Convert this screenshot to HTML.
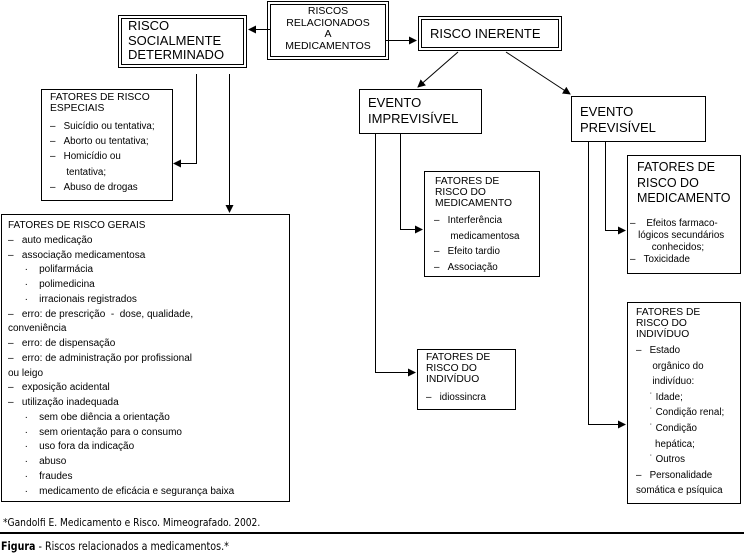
<!DOCTYPE html>
<html><head><meta charset="utf-8"><style>
body{margin:0;width:744px;height:554px;background:#fff;position:relative;font-family:"Liberation Sans",sans-serif;color:#000;overflow:hidden}
.b{position:absolute;border:1px solid #000;box-sizing:border-box;background:#fff}
.d{outline:1px solid #000;outline-offset:2px}
.t{position:absolute;white-space:nowrap;font-size:10.3px}
.h{position:absolute;white-space:nowrap;font-size:14px;line-height:16px}
.s{position:absolute;white-space:nowrap;font-size:11px;line-height:12.5px}
</style></head><body>
<svg width="744" height="554" style="position:absolute;left:0;top:0">
<defs><marker id="a" markerWidth="8" markerHeight="8" refX="7" refY="4" orient="auto" markerUnits="userSpaceOnUse"><path d="M0,0 L8,4 L0,8z" fill="#000"/></marker></defs>
<g stroke="#000" stroke-width="1" fill="none">
<line x1="278" y1="29.5" x2="249" y2="29.5" marker-end="url(#a)"/>
<line x1="382" y1="40.5" x2="416" y2="40.5" marker-end="url(#a)"/>
<polyline points="196.5,74 196.5,163.5 174,163.5" marker-end="url(#a)"/>
<line x1="229.5" y1="74" x2="229.5" y2="212" marker-end="url(#a)"/>
<line x1="458" y1="52" x2="418" y2="87" marker-end="url(#a)"/>
<line x1="506" y1="52" x2="570" y2="94" marker-end="url(#a)"/>
<polyline points="375.5,133 375.5,372.5 415,372.5" marker-end="url(#a)"/>
<polyline points="400.5,133 400.5,229.5 422,229.5" marker-end="url(#a)"/>
<polyline points="588.5,141 588.5,424.5 625,424.5" marker-end="url(#a)"/>
<polyline points="605.5,141 605.5,230.5 625,230.5" marker-end="url(#a)"/>
</g>
<line x1="0" y1="533" x2="744" y2="533" stroke="#000" stroke-width="2"/>
</svg>

<div class="b d" style="left:270px;top:4px;width:116px;height:53px"></div>
<div class="s" style="left:270px;top:6px;width:116px;text-align:center;font-size:10.5px;line-height:11.5px">RISCOS<br>RELACIONADOS<br>A<br>MEDICAMENTOS</div>

<div class="b d" style="left:121px;top:18px;width:123px;height:47px"></div>
<div class="h" style="left:128px;top:19px;line-height:14.5px;font-size:13px">RISCO<br>SOCIALMENTE<br>DETERMINADO</div>

<div class="b d" style="left:421px;top:19px;width:138px;height:29px"></div>
<div class="h" style="left:430px;top:26px;font-size:13px">RISCO INERENTE</div>

<div class="b" style="left:41px;top:89px;width:132px;height:112px"></div>
<div class="t" style="left:50px;top:92px;line-height:11px">FATORES DE RISCO<br>ESPECIAIS</div>
<div class="t" style="left:50px;top:119px;line-height:15.2px;font-size:9.8px">–&nbsp;&nbsp;&nbsp;Suicídio ou tentativa;<br>–&nbsp;&nbsp;&nbsp;Aborto ou tentativa;<br>–&nbsp;&nbsp;&nbsp;Homicídio ou<br>&nbsp;&nbsp;&nbsp;&nbsp;&nbsp;&nbsp;tentativa;<br>–&nbsp;&nbsp;&nbsp;Abuso de drogas</div>

<div class="b" style="left:1px;top:214px;width:289px;height:288px"></div>
<div class="t" style="left:8px;top:219px;line-height:14.75px;font-size:10px">FATORES DE RISCO GERAIS<br>–&nbsp;&nbsp;&nbsp;auto medicação<br>–&nbsp;&nbsp;&nbsp;associação medicamentosa<br>&nbsp;&nbsp;&nbsp;&nbsp;&nbsp;&nbsp;·&nbsp;&nbsp;&nbsp;&nbsp;polifarmácia<br>&nbsp;&nbsp;&nbsp;&nbsp;&nbsp;&nbsp;·&nbsp;&nbsp;&nbsp;&nbsp;polimedicina<br>&nbsp;&nbsp;&nbsp;&nbsp;&nbsp;&nbsp;·&nbsp;&nbsp;&nbsp;&nbsp;irracionais registrados<br>–&nbsp;&nbsp;&nbsp;erro: de prescrição&nbsp; -&nbsp; dose, qualidade,<br>conveniência<br>–&nbsp;&nbsp;&nbsp;erro: de dispensação<br>–&nbsp;&nbsp;&nbsp;erro: de administração por profissional<br>ou leigo<br>–&nbsp;&nbsp;&nbsp;exposição acidental<br>–&nbsp;&nbsp;&nbsp;utilização inadequada<br>&nbsp;&nbsp;&nbsp;&nbsp;&nbsp;&nbsp;·&nbsp;&nbsp;&nbsp;&nbsp;sem obe diência a orientação<br>&nbsp;&nbsp;&nbsp;&nbsp;&nbsp;&nbsp;·&nbsp;&nbsp;&nbsp;&nbsp;sem orientação para o consumo<br>&nbsp;&nbsp;&nbsp;&nbsp;&nbsp;&nbsp;·&nbsp;&nbsp;&nbsp;&nbsp;uso fora da indicação<br>&nbsp;&nbsp;&nbsp;&nbsp;&nbsp;&nbsp;·&nbsp;&nbsp;&nbsp;&nbsp;abuso<br>&nbsp;&nbsp;&nbsp;&nbsp;&nbsp;&nbsp;·&nbsp;&nbsp;&nbsp;&nbsp;fraudes<br>&nbsp;&nbsp;&nbsp;&nbsp;&nbsp;&nbsp;·&nbsp;&nbsp;&nbsp;&nbsp;medicamento de eficácia e segurança baixa</div>

<div class="b" style="left:359px;top:89px;width:123px;height:45px"></div>
<div class="h" style="left:368px;top:95px;font-size:13px">EVENTO<br>IMPREVISÍVEL</div>

<div class="b" style="left:571px;top:96px;width:135px;height:46px"></div>
<div class="h" style="left:580px;top:104px;font-size:13px">EVENTO<br>PREVISÍVEL</div>

<div class="b" style="left:424px;top:171px;width:116px;height:106px"></div>
<div class="t" style="left:435px;top:176px;line-height:11px">FATORES DE<br>RISCO DO<br>MEDICAMENTO</div>
<div class="t" style="left:434px;top:213px;line-height:15.5px;font-size:9.8px">–&nbsp;&nbsp;&nbsp;Interferência<br>&nbsp;&nbsp;&nbsp;&nbsp;&nbsp;&nbsp;medicamentosa<br>–&nbsp;&nbsp;&nbsp;Efeito tardio<br>–&nbsp;&nbsp;&nbsp;Associação</div>

<div class="b" style="left:627px;top:155px;width:114px;height:119px"></div>
<div class="h" style="left:637px;top:160px;font-size:12.5px;line-height:15.5px">FATORES DE<br>RISCO DO<br>MEDICAMENTO</div>
<div class="t" style="left:630px;top:218px;line-height:12px;font-size:9.8px">–&nbsp;&nbsp;&nbsp;&nbsp;Efeitos farmaco-<br>&nbsp;&nbsp;&nbsp;lógicos secundários<br>&nbsp;&nbsp;&nbsp;&nbsp;&nbsp;&nbsp;&nbsp;&nbsp;conhecidos;<br>–&nbsp;&nbsp;&nbsp;Toxicidade</div>

<div class="b" style="left:417px;top:349px;width:99px;height:61px"></div>
<div class="t" style="left:426px;top:352px;line-height:11px">FATORES DE<br>RISCO DO<br>INDIVÍDUO</div>
<div class="t" style="left:426px;top:392px;font-size:9.8px">–&nbsp;&nbsp;&nbsp;idiossincra</div>

<div class="b" style="left:627px;top:302px;width:114px;height:202px"></div>
<div class="t" style="left:636px;top:307px;line-height:11px">FATORES DE<br>RISCO DO<br>INDIVÍDUO</div>
<div class="t" style="left:636px;top:343px;line-height:15.6px;font-size:9.8px">–&nbsp;&nbsp;&nbsp;Estado<br>&nbsp;&nbsp;&nbsp;&nbsp;&nbsp;&nbsp;orgânico do<br>&nbsp;&nbsp;&nbsp;&nbsp;&nbsp;&nbsp;indivíduo:<br>&nbsp;&nbsp;&nbsp;&nbsp;&nbsp;˙ Idade;<br>&nbsp;&nbsp;&nbsp;&nbsp;&nbsp;˙ Condição renal;<br>&nbsp;&nbsp;&nbsp;&nbsp;&nbsp;˙ Condição<br>&nbsp;&nbsp;&nbsp;&nbsp;&nbsp;&nbsp;&nbsp;hepática;<br>&nbsp;&nbsp;&nbsp;&nbsp;&nbsp;˙ Outros<br>–&nbsp;&nbsp;&nbsp;Personalidade<br>somática e psíquica</div>

<div class="t" style="left:3px;top:516px;font-size:11px;font-family:'DejaVu Sans Condensed','DejaVu Sans',sans-serif;transform:scaleX(.92);transform-origin:left">*Gandolfi E. Medicamento e Risco. Mimeografado. 2002.</div>
<div class="t" style="left:1px;top:539px;font-size:11.5px;font-family:'DejaVu Sans Condensed','DejaVu Sans',sans-serif;transform:scaleX(.92);transform-origin:left"><b>Figura</b> - Riscos relacionados a medicamentos.*</div>
</body></html>
